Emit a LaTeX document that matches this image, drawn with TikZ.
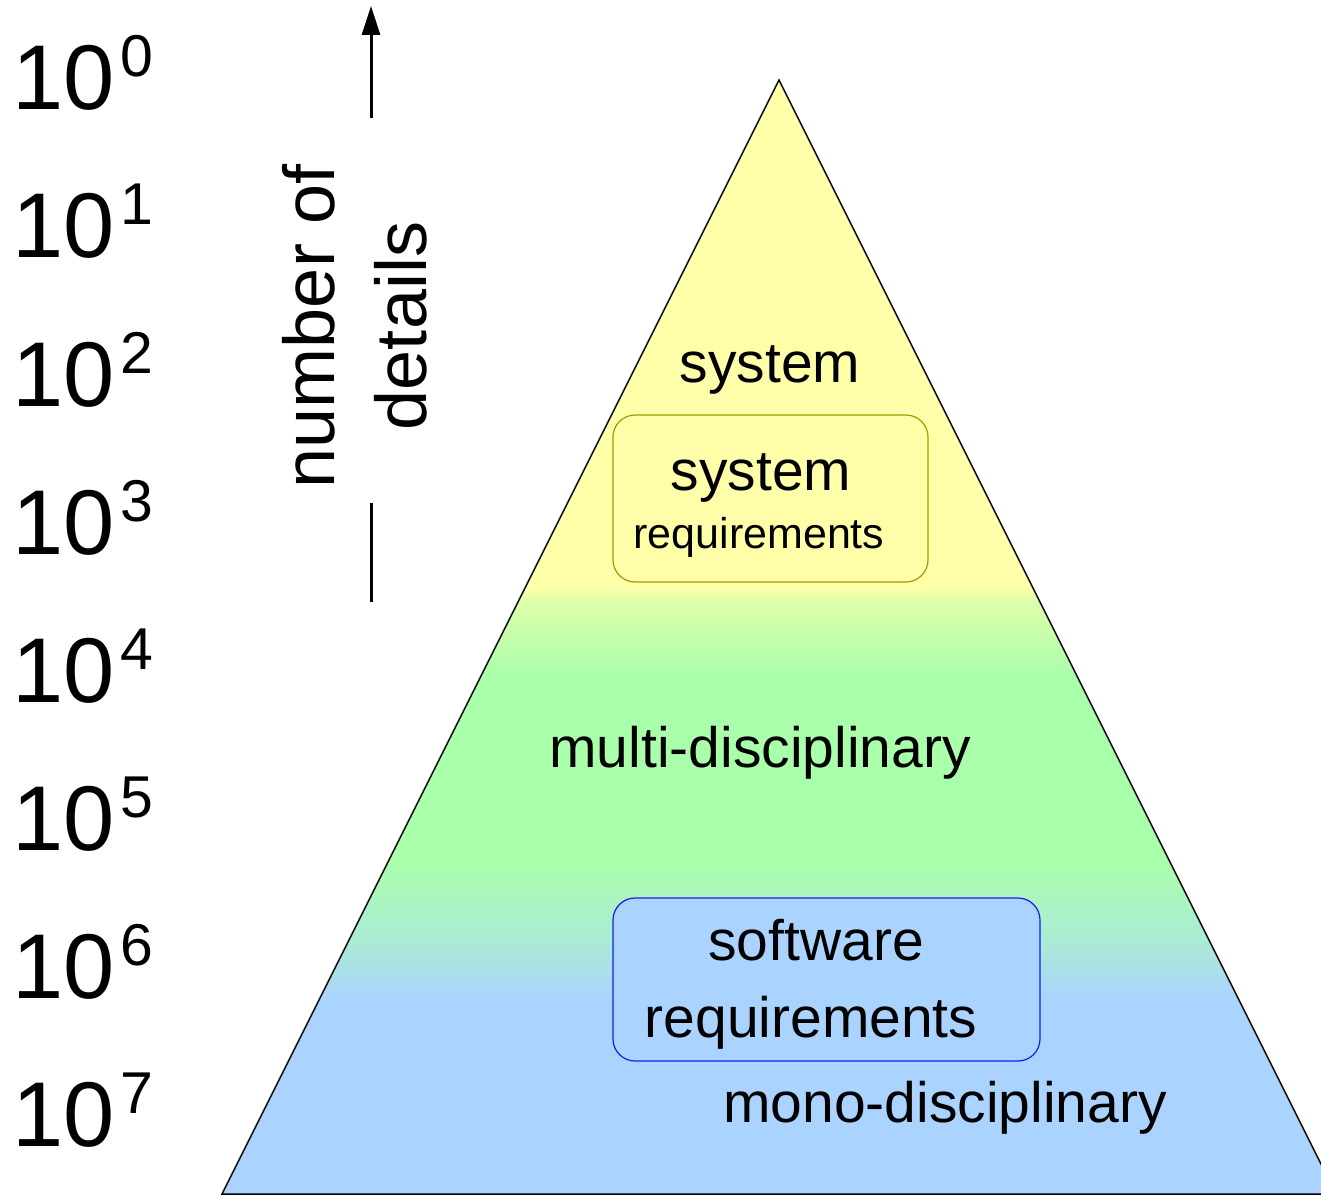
\documentclass[tikz,border=0pt]{standalone}
\usepackage{fontspec}
\setmainfont{Liberation Sans}
\usetikzlibrary{positioning, arrows.meta, shapes}

\definecolor{pyellow}{HTML}{FFFFAA}
\definecolor{plime}{HTML}{DDFFAA}
\definecolor{pgreen}{HTML}{AAFFAA}
\definecolor{pteal}{HTML}{AAEBD5}
\definecolor{pblue}{HTML}{AAD4FF}
\definecolor{sysline}{HTML}{9C9C00}
\definecolor{swline}{HTML}{1A1AF0}

% colour bands of the pyramid, bottom (25bp) to top (75bp)
\pgfdeclareverticalshading{pyramidfill}{100bp}{%
    color(0bp)=(pblue); color(33.7bp)=(pblue); color(36.4bp)=(pteal);
    color(40bp)=(pgreen); color(48.3bp)=(pgreen); color(51.6bp)=(plime);
    color(52.3bp)=(pyellow); color(100bp)=(pyellow)}

\begin{document}
\begin{tikzpicture}[
    % GLOBAL CFG
    x=1pt, y=-1pt,
    % Styles
    pyramid/.style={% The big triangle
        draw,
        line width=1.5pt,
        shading=pyramidfill,
        },
    sysbox/.style={% Box at the top
        rectangle,
        rounded corners=22pt,
        draw=sysline,
        fill=pyellow,
        line width=1.2pt,
        },
    swbox/.style={% Box at the bottom
        rectangle,
        rounded corners=22pt,
        draw=swline,
        fill=pblue,
        line width=1.2pt,
        },
    mylabel/.style={% Big labels
        font=\fontsize{57}{68}\selectfont,
        inner sep=0pt,
        anchor=base,
        },
    smalllabel/.style={% Small labels
        font=\fontsize{43}{52}\selectfont,
        inner sep=0pt,
        anchor=base,
        },
    power/.style={% The scale on the left
        inner sep=0pt,
        anchor=base west,
        },
    axis/.style={% Arrow of the scale
        line width=3pt,
        },
    ]

\useasboundingbox (0,0) rectangle (1321,1198);

    % Draw the pyramid
    \coordinate (apex) at (779,80);
    \coordinate (baseleft) at (222,1194);
    \coordinate (baseright) at (1336,1194);
    \path [pyramid] (apex) -- (baseleft) -- (baseright) -- cycle;

    % Draw the boxes
    \node [sysbox, minimum width=315pt, minimum height=167pt] (sysreq) at (770.5,498.5) {};
    \node [swbox, minimum width=427pt, minimum height=163pt] (swreq) at (826.5,979.5) {};

    % Texts in the pyramid
    \node [mylabel] (system) at (770,382) {system};
    \node [mylabel] (sysreqtop) at (761,490) {system};
    \node [smalllabel] (sysreqbot) at (759,548) {requirements};
    \node [mylabel] (multi) at (760,767) {multi-disciplinary};
    \node [mylabel] (swreqtop) at (816,960) {software};
    \node [mylabel] (swreqbot) at (811,1037) {requirements};
    \node [mylabel] (mono) at (945,1122) {mono-disciplinary};

    % Scale on the left
    \newcommand{\tenpow}[1]{{\fontsize{92}{92}\selectfont 10}\hspace{6pt}\raisebox{33pt}{\fontsize{59}{59}\selectfont #1}}
    \node [power] (p0) at (12,110) {\tenpow{0}};
    \node [power] (p1) at (12,258) {\tenpow{1}};
    \node [power] (p2) at (12,406) {\tenpow{2}};
    \node [power] (p3) at (12,554) {\tenpow{3}};
    \node [power] (p4) at (12,702) {\tenpow{4}};
    \node [power] (p5) at (12,850) {\tenpow{5}};
    \node [power] (p6) at (12,998) {\tenpow{6}};
    \node [power] (p7) at (12,1146) {\tenpow{7}};

    % Arrow and its label
    \node [rotate=90, align=center, inner sep=0pt, font=\fontsize{72}{92}\selectfont] (details) at (355,326) {number of\\details};
    \coordinate (arrowlow) at (371,118);
    \coordinate (arrowtip) at (371,6);
    \coordinate (barhigh) at (371,503);
    \coordinate (barlow) at (371,602);
    \draw [axis, -{Triangle[length=29pt, width=18pt]}] (arrowlow) -- (arrowtip);
    \draw [axis] (barhigh) -- (barlow);

\end{tikzpicture}
\end{document}
